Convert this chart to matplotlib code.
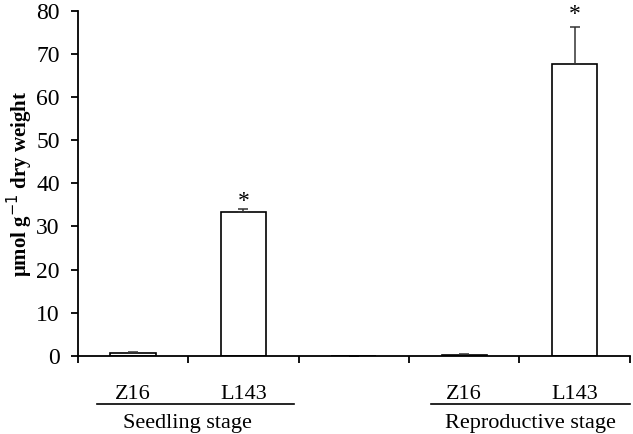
import numpy as np
import matplotlib.pyplot as plt

plt.rcParams['font.family'] = ['Liberation Serif', 'DejaVu Serif']

# data
cultivars = ['Z16', 'L143', '', 'Z16', 'L143']
values = [0.7, 33.4, 0, 0.3, 67.7]
errors = [0.1, 0.6, 0, 0.05, 8.5]
stars = ['', '*', '', '', '*']
star_gap = [0, 1.9, 0, 0, 3.0]
groups = ['Seedling stage', 'Reproductive stage']

fig = plt.figure(figsize=(6.33, 4.34), dpi=100)
ax = fig.add_axes([0.123, 0.18, 0.872, 0.795])

x = np.arange(len(cultivars)) + 0.5
ax.bar(x, values, width=0.41, color='white', edgecolor='black', linewidth=1.2)
ax.errorbar(x, values, yerr=[np.zeros(len(errors)), errors], fmt='none',
            ecolor='#333333', elinewidth=1.1, capsize=3.5, capthick=1.1)

for xi, v, e, s, g in zip(x, values, errors, stars, star_gap):
    if s:
        ax.text(xi, v + e + g, s, ha='center', va='center', fontsize=17,
                clip_on=False)

ax.set_xlim(0, len(cultivars))
ax.set_ylim(0, 80)
ax.set_yticks(np.arange(0, 81, 10))
ax.set_xticks(np.arange(0, len(cultivars) + 1))
ax.set_xticklabels([])
for xi, c in zip(x, cultivars):
    ax.text(xi, -0.112, c, transform=ax.get_xaxis_transform(), ha='center',
            va='center', fontsize=16)

ax.spines['top'].set_visible(False)
ax.spines['right'].set_visible(False)
ax.spines['left'].set_linewidth(1.3)
ax.spines['bottom'].set_linewidth(1.3)
ax.tick_params(axis='both', direction='out', length=5, width=1.3, labelsize=17)
ax.tick_params(axis='y', pad=8)

ax.set_ylabel('\u03bcmol g$^{-1}$ dry weight', fontsize=15, fontweight='bold')
ax.yaxis.set_label_coords(-0.078, 0.5)

# group lines and labels
trans = ax.get_xaxis_transform()
for (x0, x1), name in zip([(0.17, 1.96), (3.2, 5.0)], groups):
    ax.plot([x0, x1], [-0.139, -0.139], color='black', linewidth=1.2,
            transform=trans, clip_on=False)
for xc, name in zip([0.99, 4.1], groups):
    ax.text(xc, -0.195, name, transform=trans, ha='center', va='center',
            fontsize=16)

fig.savefig('out.png', dpi=100)
